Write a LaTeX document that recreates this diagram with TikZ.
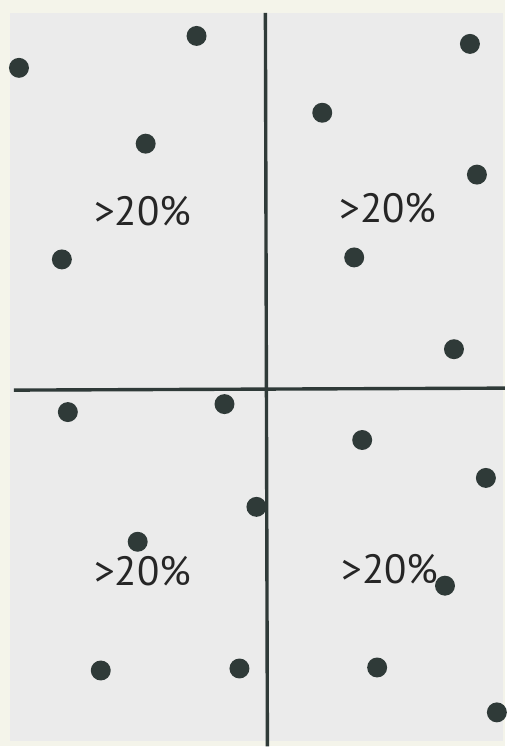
\documentclass[tikz,border=0pt]{standalone}
\usepackage{fontspec}
\setmainfont{PT Sans}
\definecolor{paper}{HTML}{F4F4EA}
\definecolor{field}{HTML}{EBEBEB}
\definecolor{dot}{HTML}{2F3A38}
\tikzset{pt/.style={fill=dot}, share/.style={font=\fontsize{41}{44}\selectfont,text=black!85}}
\begin{document}
\begin{tikzpicture}[x=1pt,y=-1pt]
\fill[paper] (0,0) rectangle (506,748);
\fill[field] (10,13) rectangle (504,743);
\coordinate (T) at (266,13);
\coordinate (Bt) at (268,748);
\coordinate (L) at (14,391);
\coordinate (R) at (506,389);
\draw[dot,line width=3.4] (T)--(Bt);
\draw[dot,line width=3.4] (L)--(R);
\fill[pt] (19,68) circle [radius=10];
\fill[pt] (197,36) circle [radius=10];
\fill[pt] (146,144) circle [radius=10];
\fill[pt] (62,260) circle [radius=10];
\fill[pt] (471,44) circle [radius=10];
\fill[pt] (323,113) circle [radius=10];
\fill[pt] (478,175) circle [radius=10];
\fill[pt] (355,258) circle [radius=10];
\fill[pt] (455,350) circle [radius=10];
\fill[pt] (68,413) circle [radius=10];
\fill[pt] (225,405) circle [radius=10];
\fill[pt] (257,508) circle [radius=10];
\fill[pt] (138,543) circle [radius=10];
\fill[pt] (101,672) circle [radius=10];
\fill[pt] (240,670) circle [radius=10];
\fill[pt] (363,441) circle [radius=10];
\fill[pt] (487,479) circle [radius=10];
\fill[pt] (446,587) circle [radius=10];
\fill[pt] (378,669) circle [radius=10];
\fill[pt] (498,714) circle [radius=10];
\node[share] (q1) at (143,212) {>20\%};
\node[share] (q2) at (389,209) {>20\%};
\node[share] (q3) at (143,572) {>20\%};
\node[share] (q4) at (391,570) {>20\%};
\end{tikzpicture}
\end{document}
